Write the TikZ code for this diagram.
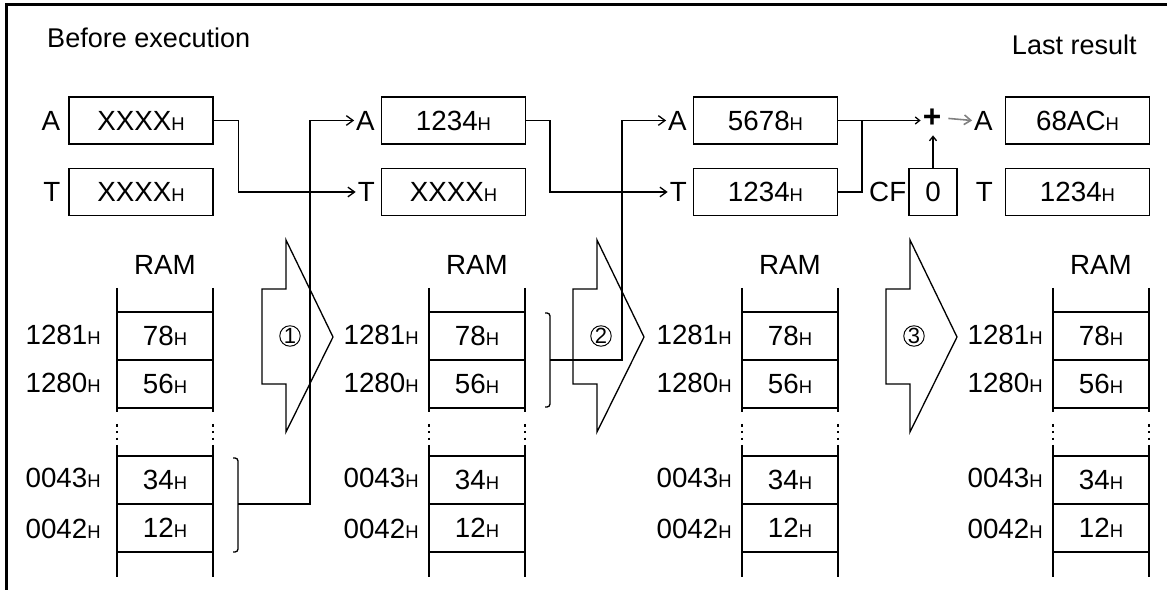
\documentclass[tikz,border=0pt]{standalone}
\usepackage{fontspec}
\setmainfont{Liberation Sans}
\usetikzlibrary{arrows.meta,calc}
\usetikzlibrary{positioning}
\newcommand{\hs}{{\fontsize{10.5pt}{11pt}\selectfont H}}

\begin{document}
\begin{tikzpicture}[x=0.02cm,y=-0.02cm,>={Straight Barb[length=3.8pt,width=5.5pt]},
  every node/.style={font=\fontsize{15.8pt}{18pt}\selectfont},
  reg/.style={draw,line width=0.75pt,minimum width=2.88cm,minimum height=0.94cm,inner sep=0pt},
  lbl/.style={inner sep=1pt},
  circ/.style={draw,circle,line width=0.55pt,inner sep=0pt,minimum size=0.41cm,font=\fontsize{12.5pt}{13pt}\selectfont},
  conn/.style={line width=0.75pt}]
\useasboundingbox (0,0) rectangle (1167,590);
% frame, only top and left edge
\draw[line width=1.2pt] (6.5,590) -- (6.5,4.5) -- (1167,4.5);
\node[anchor=west,font=\fontsize{15.4pt}{18pt}\selectfont] (before) at (41,38) {Before execution};
\node[anchor=east,font=\fontsize{15.4pt}{18pt}\selectfont] (last) at (1143,45) {Last result};
% registers A and T
\node[reg] (a1) at (141,120.5) {XXXX\hs};
\node[reg] (t1) at (141,192) {XXXX\hs};
\node[reg] (a2) at (453.5,120.5) {1234\hs};
\node[reg] (t2) at (453.5,192) {XXXX\hs};
\node[reg] (a3) at (765.5,120.5) {5678\hs};
\node[reg] (t3) at (765.5,192) {1234\hs};
\node[reg] (a4) at (1077.5,120.5) {68AC\hs};
\node[reg] (t4) at (1077.5,192) {1234\hs};
\node[lbl,left=0.12cm of a1] (la1) {A};
\node[lbl,left=0.12cm of t1] (lt1) {T};
\node[lbl,left=0.08cm of a2] (la2) {A};
\node[lbl,left=0.08cm of t2] (lt2) {T};
\node[lbl,left=0.08cm of a3] (la3) {A};
\node[lbl,left=0.08cm of t3] (lt3) {T};
\node[lbl,left=0.2cm of a4] (la4) {A};
\node[lbl,left=0.2cm of t4] (lt4) {T};
% carry and adder
\node[reg,minimum width=0.96cm] (cf) at (933,192) {0};
\node[lbl,left=0cm of cf] (lcf) {CF};
\node[inner sep=1pt,font=\fontsize{18pt}{18pt}\selectfont] (plus) at (932,118) {\textbf{+}};
% RAM columns
\foreach \R/\c/\g in {213/1/16,525/2/10,838/3/10,1149/4/10}{
  \draw[conn] (\R-96,288) -- (\R-96,412) (\R-96,445) -- (\R-96,577);
  \draw[conn] (\R,288) -- (\R,412) (\R,445) -- (\R,577);
  \draw[line width=0.9pt,dash pattern=on 1.5pt off 2.4pt] (\R-96,424) -- (\R-96,443) (\R,424) -- (\R,443);
  \foreach \y in {312,360,408,456,504,552}
    \draw[conn] (\R-96,\y) -- (\R,\y);
  \node (ram\c) at (\R-48,265) {RAM};
  \node (v\c-1) at (\R-48,336) {78\hs};
  \node (v\c-2) at (\R-48,384) {56\hs};
  \node (v\c-3) at (\R-48,480) {34\hs};
  \node (v\c-4) at (\R-48,528) {12\hs};
  \node[anchor=east,inner sep=0pt] (ad\c-1) at (\R-96-\g,335) {1281\hs};
  \node[anchor=east,inner sep=0pt] (ad\c-2) at (\R-96-\g,383) {1280\hs};
  \node[anchor=east,inner sep=0pt] (ad\c-3) at (\R-96-\g,478) {0043\hs};
  \node[anchor=east,inner sep=0pt] (ad\c-4) at (\R-96-\g,529) {0042\hs};
}
% brackets round the words that are read
\draw[conn,rounded corners=0.06cm] (233,458) -- (238,458) -- (238,552) -- (233,552);
\draw[conn,rounded corners=0.06cm] (545,313) -- (550,313) -- (550,407) -- (545,407);
\coordinate (br1) at (238,504);
\coordinate (br2) at (550,360);
% data paths
\draw[conn,->] (a1.east) -- ++(25,0) |- (lt2.west);
\draw[conn,->] (br1) -- ++(72,0) |- (la2.west);
\draw[conn,->] (a2.east) -- ++(24,0) |- (lt3.west);
\draw[conn,->] (br2) -- ++(72,0) |- (la3.west);
\draw[conn,->,>={Straight Barb[length=2.5pt,width=4pt]}] (a3.east) -- (a3.east -| plus.west);
\draw[conn] (t3.east) -| ($(a3.east)+(24,0)$);
\draw[conn,->,>={Straight Barb[length=2.5pt,width=4pt]},shorten >=0.12cm] (cf.north) -- (cf.north |- plus.south);
\draw[->,line width=0.9pt,gray,shorten <=0.1cm] (plus.east) -- (la4.west);
% step arrows
\foreach \L/\n in {262/1,573/2,886/3}{
  \draw[line width=0.75pt] (\L,289) -- (\L+24,289) -- (\L+24,240) -- (\L+71,337)
    -- (\L+24,432) -- (\L+24,384) -- (\L,384) -- cycle;
  \node[circ] (go\n) at (\L+28,336) {\n};
}
\end{tikzpicture}
\end{document}
